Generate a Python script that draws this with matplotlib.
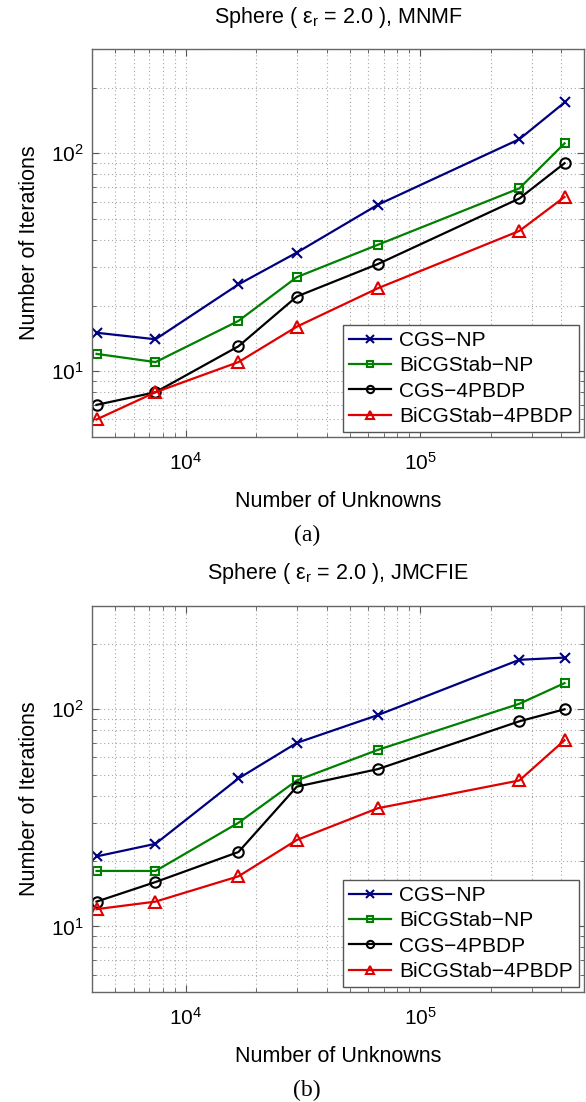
import numpy as np
import matplotlib
matplotlib.use("Agg")
import matplotlib.pyplot as plt
from matplotlib.ticker import LogLocator, NullFormatter

plt.rcParams['font.family'] = ['Liberation Sans', 'DejaVu Sans']
plt.rcParams['mathtext.fontset'] = 'custom'
plt.rcParams['mathtext.rm'] = 'Liberation Sans'
plt.rcParams['mathtext.it'] = 'Liberation Sans:italic'
plt.rcParams['mathtext.bf'] = 'Liberation Sans:bold'

# number of unknowns for each mesh
unknowns = [4170, 7440, 16800, 29800, 66000, 265000, 413000]

# (a) MNMF iteration counts
mnmf_cgs_np = [15, 14, 25, 35, 58, 116, 171]
mnmf_bicg_np = [12, 11, 17, 27, 38, 69, 111]
mnmf_cgs_4p = [7, 8, 13, 22, 31, 62, 90]
mnmf_bicg_4p = [6, 8, 11, 16, 24, 44, 63]

# (b) JMCFIE iteration counts
jm_cgs_np = [21, 24, 48, 70, 94, 169, 173]
jm_bicg_np = [18, 18, 30, 47, 65, 106, 132]
jm_cgs_4p = [13, 16, 22, 44, 53, 88, 100]
jm_bicg_4p = [12, 13, 17, 25, 35, 47, 72]

labels = ['CGS\u2212NP', 'BiCGStab\u2212NP', 'CGS\u22124PBDP', 'BiCGStab\u22124PBDP']
colors = ['#000080', '#008000', '#000000', '#E00000']
markers = ['x', 's', 'o', '^']
msizes = [7.5, 6, 7.5, 8.5]

panels = [
    ('MNMF', [mnmf_cgs_np, mnmf_bicg_np, mnmf_cgs_4p, mnmf_bicg_4p], '(a)'),
    ('JMCFIE', [jm_cgs_np, jm_bicg_np, jm_cgs_4p, jm_bicg_4p], '(b)'),
]

fig = plt.figure(figsize=(5.86, 11.02), dpi=100)
W, H = 586.0, 1102.0
boxes = [(49.3, 436.7), (605.7, 991.7)]
caption_y = [535, 1090]

for k, (method, series, tag) in enumerate(panels):
    top, bot = boxes[k]
    ax = fig.add_axes([92.3 / W, 1 - bot / H, (584 - 92.3) / W, (bot - top) / H])
    for i, s in enumerate(series):
        ax.plot(unknowns, s, color=colors[i], marker=markers[i], ms=msizes[i],
                mfc='none', mew=1.5, lw=1.6, label=labels[i])
    ax.set_xscale('log')
    ax.set_yscale('log')
    ax.set_xlim(4000, 5e5)
    ax.set_ylim(5, 300)
    ax.xaxis.set_minor_locator(LogLocator(base=10, subs=np.arange(2, 10)))
    ax.yaxis.set_minor_locator(LogLocator(base=10, subs=np.arange(2, 10)))
    ax.xaxis.set_minor_formatter(NullFormatter())
    ax.yaxis.set_minor_formatter(NullFormatter())

    ax.grid(True, which='both', color='#a8a8a8', linestyle=(0, (1, 2.5)), lw=0.8)
    ax.tick_params(which='both', direction='in', top=True, right=True,
                   color='#555555', labelsize=15)
    ax.tick_params(which='major', length=5)
    ax.tick_params(which='minor', length=3)
    ax.tick_params(axis='x', pad=11)
    ax.tick_params(axis='y', pad=6)
    for sp in ax.spines.values():
        sp.set_color('#666666')
        sp.set_linewidth(1.0)

    ax.set_title('Sphere ( \u03b5$_{\\mathregular{r}}$ = 2.0 ), ' + method,
                 fontsize=15.5, pad=19)
    ax.set_xlabel('Number of Unknowns', fontsize=15.5, labelpad=12)
    ax.set_ylabel('Number of Iterations', fontsize=15.5, labelpad=8)

    leg = ax.legend(loc='lower right', fontsize=15, fancybox=False,
                    framealpha=1, edgecolor='#555555', borderaxespad=0.22,
                    borderpad=0.3, labelspacing=0.3, handlelength=2.0,
                    handletextpad=0.4, markerscale=0.7)
    leg.get_frame().set_linewidth(1.0)

    fig.text(307 / W, 1 - caption_y[k] / H, tag, ha='center', va='center',
             fontsize=17, family='Liberation Serif')

plt.savefig('out.png', dpi=100)
